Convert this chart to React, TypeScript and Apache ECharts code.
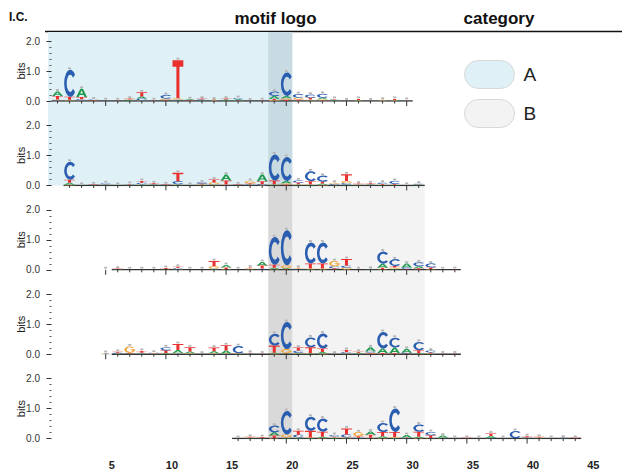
import React, { useEffect, useRef } from 'react';
import * as echarts from 'echarts';

// ---------------- data ----------------
const LETTERS = ['A', 'C', 'G', 'T'];
const letterColors = ['#1f9a4e', '#2a5daf', '#f0a53a', '#e8302e'];

// first logo position of each row and extent of each row's baseline
const rowStarts = [0, 1, 4, 4, 15];
const rowLineRanges = [[0, 30], [1, 31], [5, 34], [5, 34], [15, 44]];

// row 1 (positions 0..29)
const row1A = [.15, .02, .28, .01, .005, .005, .02, .07, .005, .02, .02, .03, .01, .01, .03, .04, .005, .005, .10, .08, .02, .02, .05, .02, .005, .01, .005, .01, .01, .01];
const row1C = [.02, .90, .04, .02, .01, .005, .01, .06, .005, .12, .02, .01, .03, .01, .01, .04, .005, .005, .14, .78, .12, .10, .13, .02, .005, .01, .005, .01, .01, .01];
const row1G = [.03, .02, .02, .01, .005, .005, .02, .02, .005, .04, .05, .01, .01, .01, .01, .01, .005, .005, .03, .05, .06, .03, .04, .01, .005, .01, .005, .01, .01, .005];
const row1T = [.12, .10, .07, .01, .005, .01, .03, .14, .01, .02, 1.27, .01, .03, .02, .03, .01, .005, .01, .04, .04, .03, .06, .02, .02, .005, .04, .005, .01, .04, .01];

// row 2 (positions 1..30)
const row2A = [.07, .005, .01, .01, .005, .01, .02, .02, .01, .02, .005, .01, .01, .20, .01, .01, .22, .02, .08, .02, .02, .04, .01, .02, .01, .02, .01, .01, .005, .01];
const row2C = [.60, .005, .01, .04, .005, .01, .05, .01, .01, .10, .005, .04, .02, .01, .01, .02, .03, .87, .80, .08, .33, .19, .03, .06, .01, .01, .04, .10, .005, .03];
const row2G = [.02, .005, .005, .01, .005, .01, .02, .01, .005, .02, .005, .02, .07, .02, .005, .08, .01, .02, .04, .02, .02, .02, .04, .07, .02, .01, .01, .01, .005, .01];
const row2T = [.10, .005, .01, .01, .005, .02, .06, .03, .01, .28, .005, .03, .10, .13, .01, .04, .10, .12, .03, .05, .10, .07, .01, .22, .02, .03, .03, .03, .005, .01];

// row 3 (positions 4..33)
const row3A = [.005, .01, .005, .005, .005, .01, .01, .005, .005, .02, .08, .005, .01, .12, .05, .03, .01, .02, .02, .01, .01, .005, .01, .13, .03, .13, .07, .01, .005, .005];
const row3C = [.005, .01, .005, .005, .005, .01, .04, .005, .005, .02, .01, .005, .01, .03, .92, 1.17, .02, .70, .70, .07, .07, .005, .01, .41, .22, .05, .13, .13, .005, .005];
const row3G = [.005, .01, .005, .005, .005, .01, .01, .005, .005, .08, .02, .005, .03, .01, .02, .10, .02, .02, .02, .17, .06, .005, .005, .02, .05, .01, .01, .02, .005, .005];
const row3T = [.005, .01, .005, .005, .005, .03, .04, .005, .005, .17, .05, .005, .03, .10, .10, .02, .02, .17, .17, .04, .22, .005, .01, .05, .05, .02, .04, .05, .005, .01];

// row 4 (positions 4..33)
const row4A = [.01, .01, .01, .01, .01, .02, .10, .06, .005, .07, .10, .01, .01, .005, .03, .02, .02, .02, .05, .005, .01, .03, .13, .15, .19, .13, .02, .01, .005, .005];
const row4C = [.01, .03, .02, .02, .02, .10, .02, .01, .005, .01, .01, .24, .01, .005, .39, .90, .08, .33, .50, .005, .04, .01, .05, .55, .33, .03, .28, .06, .005, .005];
const row4G = [.01, .01, .22, .02, .01, .02, .02, .02, .005, .02, .01, .01, .01, .005, .02, .13, .02, .02, .02, .005, .02, .01, .03, .01, .01, .01, .01, .01, .005, .005];
const row4T = [.01, .03, .01, .06, .01, .09, .20, .14, .005, .12, .18, .01, .02, .01, .24, .02, .10, .19, .12, .005, .07, .03, .02, .03, .02, .01, .10, .04, .01, .01];

// row 5 (positions 15..43)
const row5A = [.005, .01, .01, .11, .02, .02, .02, .04, .02, .01, .01, .11, .06, .02, .09, .04, .01, .07, .005, .005, .005, .07, .005, .005, .01, .01, .005, .01, .005];
const row5C = [.005, .01, .01, .22, .78, .09, .47, .44, .05, .10, .02, .01, .30, .78, .01, .24, .11, .01, .005, .005, .005, .01, .005, .24, .02, .01, .005, .01, .005];
const row5G = [.005, .02, .01, .02, .10, .02, .02, .02, .03, .03, .13, .02, .02, .03, .01, .02, .01, .01, .005, .005, .005, .01, .005, .005, .01, .02, .005, .005, .005];
const row5T = [.005, .02, .02, .08, .02, .13, .22, .17, .02, .20, .05, .10, .14, .17, .01, .17, .09, .01, .005, .01, .005, .08, .005, .005, .04, .02, .005, .01, .01];

const rowsData = [
  [row1A, row1C, row1G, row1T],
  [row2A, row2C, row2G, row2T],
  [row3A, row3C, row3G, row3T],
  [row4A, row4C, row4G, row4T],
  [row5A, row5C, row5G, row5T],
];

// categories (background regions)
const categoryNames = ['A', 'B'];
const categoryColors = ['#dff0f6', '#f3f3f3'];
const coreColors = ['#c9dbe2', '#d9d9d9'];
const categoryRowSpans = [[0, 1], [2, 4]];
const categoryXEnds = [20, 31];
const categoryXStarts: (number | null)[] = [null, 20];
const coreSpan = [18, 20];

const bottomTickLabels = [5, 10, 15, 20, 25, 30, 35, 40, 45];

// ---------------- layout ----------------
const W = 622;
const H = 471;
const X0 = 51.5;
const UNIT = 12.04;
const XMAX = 45;
const GRID_LEFT = 48;
const XMIN = -(X0 - GRID_LEFT) / UNIT;
const GRID_RIGHT = W - (X0 + XMAX * UNIT);
const ROW_BASE0 = 101;
const ROW_STEP = 84.4;
const ROW_H = 60;
const BAND_TOP = 32;
const BG_MIN = -(ROW_BASE0 - BAND_TOP) / ROW_STEP;
const FONT = 'Arial, "Liberation Sans", Helvetica, sans-serif';

// glyph outlines in a 100x100 box (scaled to each letter's cell)
const GLYPHS = [
  'M38 0H62L100 100H78L69 75H31L22 100H0ZM37 58H63L50 22Z',
  'M86.8 17.9A48 50 0 1 0 86.8 82.1L71.4 70.6A28 32 0 1 1 71.4 29.4Z',
  'M86.8 17.9A48 50 0 1 0 97.3 58.7V44H56V58.3H77A28 32 0 1 1 71.4 29.4Z',
  'M0 0H100V17H64V100H36V17H0Z',
];

const renderLogo = (_params: any, api: any) => {
  const xc = api.value(0) as number;
  const items = LETTERS.map((_, i) => ({ i, h: api.value(i + 1) as number })).sort((a, b) => a.h - b.h);
  const colW = api.size([1, 0])[0];
  const w = colW * 0.9;
  const children: any[] = [];
  let acc = 0;
  for (const it of items) {
    const pBot = api.coord([xc, acc]);
    const pTop = api.coord([xc, acc + it.h]);
    const h = pBot[1] - pTop[1];
    if (h > 0.2) {
      children.push({
        type: 'path',
        shape: { pathData: GLYPHS[it.i], x: pBot[0] - w / 2, y: pTop[1], width: w, height: h, layout: 'cover' },
        style: { fill: letterColors[it.i] },
      });
    }
    acc += it.h;
  }
  const top = api.coord([xc, acc]);
  children.push({
    type: 'rect',
    shape: { x: top[0] - 1.5, y: top[1] - 2.4, width: 3, height: 1.8 },
    style: { fill: '#b5b5b5' },
  });
  const base = api.coord([xc, 0]);
  const k = Math.floor(xc);
  const len = (k + 1) % 5 === 0 ? 5 : 2.5;
  children.push({
    type: 'line',
    shape: { x1: base[0], y1: base[1], x2: base[0], y2: base[1] + len },
    style: { stroke: '#333', lineWidth: 1 },
  });
  return { type: 'group', children };
};

const renderBand = (ci: number) => (_params: any, api: any) => {
  const x0 = api.value(0);
  const x1 = api.value(1);
  const r0 = api.value(2);
  const r1 = api.value(3);
  const a = api.coord([x0, r0]);
  const b = api.coord([x1, r1]);
  const c0 = api.coord([coreSpan[0], r0]);
  const c1 = api.coord([coreSpan[1], r1]);
  return {
    type: 'group',
    children: [
      { type: 'rect', shape: { x: a[0], y: a[1], width: b[0] - a[0], height: b[1] - a[1] }, style: { fill: categoryColors[ci] } },
      { type: 'rect', shape: { x: c0[0], y: c0[1], width: c1[0] - c0[0], height: c1[1] - c0[1] }, style: { fill: coreColors[ci] } },
    ],
  };
};

function buildOption() {
  const grids: any[] = [];
  const xAxes: any[] = [];
  const yAxes: any[] = [];
  const series: any[] = [];

  // background grid for category bands
  grids.push({ left: GRID_LEFT, right: GRID_RIGHT, top: BAND_TOP, height: ROW_BASE0 + 4 * ROW_STEP - BAND_TOP, outerBoundsMode: 'none' });
  xAxes.push({ gridIndex: 0, type: 'value', min: XMIN, max: XMAX, show: false });
  yAxes.push({ gridIndex: 0, type: 'value', min: BG_MIN, max: 4, inverse: true, show: false });

  categoryNames.forEach((name, ci) => {
    const [ra, rb] = categoryRowSpans[ci];
    const rTop = ra === 0 ? BG_MIN : ra - 1;
    const xs = categoryXStarts[ci];
    series.push({
      type: 'custom',
      name,
      xAxisIndex: 0,
      yAxisIndex: 0,
      z: 0,
      silent: true,
      itemStyle: { color: categoryColors[ci] },
      encode: { x: [0, 1], y: [2, 3] },
      data: [[xs === null ? XMIN : xs, categoryXEnds[ci], rTop, rb]],
      renderItem: renderBand(ci),
    });
  });

  rowsData.forEach((rows, r) => {
    const gi = r + 1;
    const base = ROW_BASE0 + r * ROW_STEP;
    grids.push({ left: GRID_LEFT, right: GRID_RIGHT, top: base - ROW_H, height: ROW_H, outerBoundsMode: 'none' });
    xAxes.push({ gridIndex: gi, type: 'value', min: XMIN, max: XMAX, show: false });
    yAxes.push({
      gridIndex: gi,
      type: 'value',
      min: 0,
      max: 2,
      interval: 1,
      name: 'bits',
      nameLocation: 'middle',
      nameGap: 22,
      nameMoveOverlap: false,
      nameTextStyle: { fontSize: 11, color: '#222', fontFamily: FONT },
      axisLine: { show: false },
      axisTick: { show: true, length: 5, lineStyle: { color: '#333', width: 1 } },
      minorTick: { show: true, splitNumber: 5, length: 2, lineStyle: { color: '#555', width: 1 } },
      splitLine: { show: false },
      minorSplitLine: { show: false },
      axisLabel: { fontSize: 10, color: '#333', margin: 8, fontFamily: FONT, formatter: (v: number) => v.toFixed(1) },
    });
    const start = rowStarts[r];
    const data = rows[0].map((_, j) => [start + j + 0.5, rows[0][j], rows[1][j], rows[2][j], rows[3][j]]);
    const [l0, l1] = rowLineRanges[r];
    series.push({
      type: 'line',
      xAxisIndex: gi,
      yAxisIndex: gi,
      data: [[l0, 0], [l1, 0]],
      symbol: 'none',
      silent: true,
      z: 2,
      lineStyle: { color: '#333', width: 1.5 },
    });
    series.push({
      type: 'custom',
      xAxisIndex: gi,
      yAxisIndex: gi,
      z: 3,
      silent: true,
      encode: { x: 0, y: 1 },
      data,
      renderItem: renderLogo,
    });
  });

  // bottom position labels
  grids.push({ left: X0, right: GRID_RIGHT, top: 455, height: 1, outerBoundsMode: 'none' });
  xAxes.push({
    gridIndex: 6,
    type: 'value',
    min: 0,
    max: XMAX,
    interval: 5,
    axisLine: { show: false },
    axisTick: { show: false },
    splitLine: { show: false },
    axisLabel: {
      margin: 3,
      fontSize: 11,
      fontWeight: 'bold',
      color: '#222',
      fontFamily: FONT,
      formatter: (v: number) => (bottomTickLabels.includes(v) ? String(v) : ''),
    },
  });
  yAxes.push({ gridIndex: 6, type: 'value', show: false });

  return {
    animation: false,
    backgroundColor: '#fff',
    textStyle: { fontFamily: FONT },
    grid: grids,
    xAxis: xAxes,
    yAxis: yAxes,
    legend: {
      orient: 'vertical',
      left: 464,
      top: 60,
      padding: 0,
      itemWidth: 50,
      itemHeight: 28,
      itemGap: 10,
      selectedMode: false,
      icon: 'path://M14 0H36A14 14 0 0 1 36 28H14A14 14 0 0 1 14 0Z',
      itemStyle: { borderColor: '#d8d8d8', borderWidth: 1 },
      textStyle: { fontSize: 19, color: '#222', fontFamily: FONT, padding: [0, 0, 0, 4] },
      data: categoryNames,
    },
    graphic: [
      { type: 'text', x: 9, y: 17, style: { text: 'I.C.', font: `bold 12px ${FONT}`, fill: '#111', verticalAlign: 'middle' } },
      { type: 'text', x: 275.5, y: 18, style: { text: 'motif logo', font: `bold 17px ${FONT}`, fill: '#111', align: 'center', verticalAlign: 'middle' } },
      { type: 'text', x: 499, y: 18, style: { text: 'category', font: `bold 17px ${FONT}`, fill: '#111', align: 'center', verticalAlign: 'middle' } },
      { type: 'line', shape: { x1: 45, y1: 31.5, x2: W, y2: 31.5 }, style: { stroke: '#111', lineWidth: 1.5 } },
    ],
    series,
  };
}

export default function App() {
  const ref = useRef<HTMLDivElement>(null);
  useEffect(() => {
    if (!ref.current) return;
    const chart = echarts.init(ref.current, undefined, { renderer: 'svg' });
    chart.setOption(buildOption() as any);
    return () => chart.dispose();
  }, []);
  return <div ref={ref} style={{ position: 'absolute', left: 0, top: 0, width: W, height: H, background: '#fff' }} />;
}
